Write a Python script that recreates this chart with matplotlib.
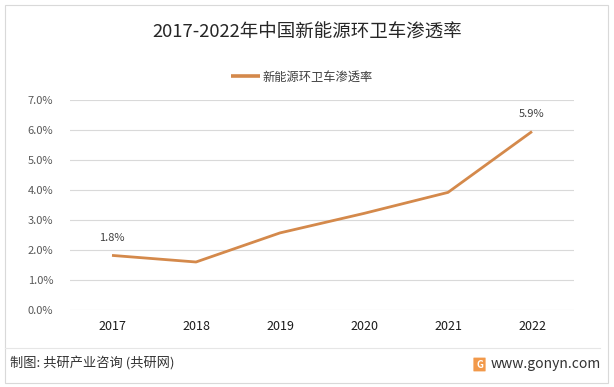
import matplotlib.pyplot as plt
from matplotlib.patches import Rectangle, FancyBboxPatch
from matplotlib.ticker import FuncFormatter

plt.rcParams['font.family'] = ['Noto Sans CJK SC', 'DejaVu Sans']

years = ['2017', '2018', '2019', '2020', '2021', '2022']
rate = [1.82, 1.6, 2.57, 3.22, 3.92, 5.95]
labels = {0: '1.8%', 5: '5.9%'}
yticks = [0, 1, 2, 3, 4, 5, 6, 7]

line_color = '#d4894b'

fig = plt.figure(figsize=(6.14, 3.87), dpi=100)
W, H = 614, 387

# outer border
fig.patches.append(Rectangle((5 / W, 4 / H), 603 / W, 378 / H, transform=fig.transFigure,
                             fill=False, edgecolor='#d9d9d9', linewidth=0.8))

ax = fig.add_axes([70 / W, 1 - 310 / H, 504 / W, 210 / H])
ax.set_facecolor('none')
x = range(len(years))
ax.plot(x, rate, color=line_color, linewidth=2.0, solid_capstyle='butt',
        label='新能源环卫车渗透率', zorder=3)
for i, t in labels.items():
    ax.annotate(t, (i, rate[i]), xytext=(0, 9), textcoords='offset points',
                ha='center', va='bottom', fontsize=8, color='#404040')

ax.set_xlim(-0.5, len(years) - 0.5)
ax.set_ylim(0, 7)
ax.set_yticks(yticks)
ax.yaxis.set_major_formatter(FuncFormatter(lambda v, p: f'{v:.1f}%'))
ax.set_xticks(list(x))
ax.set_xticklabels(years)
ax.grid(axis='y', color='#d9d9d9', linewidth=0.8)
ax.set_axisbelow(True)
for s in ax.spines.values():
    s.set_visible(False)
ax.tick_params(axis='y', length=0, pad=12, labelsize=8, labelcolor='#595959')
ax.tick_params(axis='x', length=0, pad=7, labelsize=9, labelcolor='#1a1a1a')

fig.text(0.5, 1 - 33 / H, '2017-2022年中国新能源环卫车渗透率', ha='center', va='center',
         fontsize=13.3, color='#262626')
leg = ax.legend(loc='center', bbox_to_anchor=(0.46, (310 - 77) / 210), frameon=False,
                fontsize=8.8, handlelength=2.4, handletextpad=0.15, labelcolor='#404040')
for h in leg.get_lines():
    h.set_linewidth(2.6)

# footer
fig.lines.append(plt.Line2D([5 / W, 600 / W], [1 - 348 / H, 1 - 348 / H],
                            transform=fig.transFigure, color='#e6e6e6', linewidth=0.8))
fig.text(10 / W, 1 - 364 / H, '制图: 共研产业咨询 (共研网)', ha='left', va='center',
         fontsize=9.5, color='#333333')
fig.text(601 / W, 1 - 364 / H, 'www.gonyn.com', ha='right', va='center',
         fontsize=10, color='#333333')
fig.patches.append(FancyBboxPatch((474 / W, 1 - 371 / H), 11 / W, 13 / H,
                                  boxstyle='round,pad=0.001', transform=fig.transFigure,
                                  facecolor='#f2994a', edgecolor='none'))
fig.text(479.5 / W, 1 - 364.5 / H, 'G', ha='center', va='center', fontsize=7,
         fontweight='bold', color='white')

fig.savefig('out.png', dpi=100)
